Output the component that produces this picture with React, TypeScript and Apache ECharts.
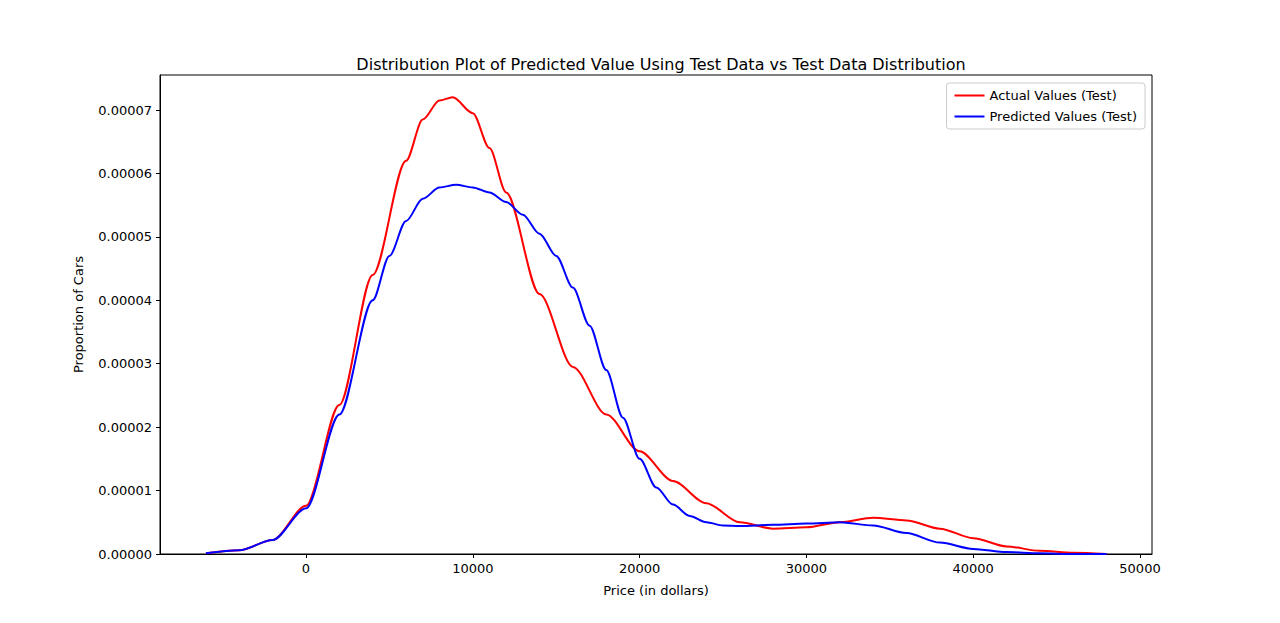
import { useRef, useEffect } from "react"
import * as echarts from "echarts"

// x in dollars, y in units of 1e-5
const actualX = [-6000, -4000, -2000, 0, 2000, 4000, 6000, 7000, 8000, 8800, 10000, 11000, 12000, 14000, 16000, 18000, 20000, 22000, 24000, 26000, 28000, 30000, 32000, 34000, 36000, 38000, 40000, 42000, 44000, 46000, 48000]
const actualY = [0.01, 0.06, 0.22, 0.76, 2.35, 4.4, 6.2, 6.85, 7.15, 7.2, 6.95, 6.4, 5.7, 4.1, 2.95, 2.2, 1.62, 1.15, 0.8, 0.5, 0.4, 0.42, 0.5, 0.57, 0.53, 0.4, 0.25, 0.12, 0.05, 0.02, 0.0]
const predX = [-6000, -4000, -2000, 0, 2000, 4000, 5000, 6000, 7000, 8000, 9000, 10000, 11000, 12000, 13000, 14000, 15000, 16000, 17000, 18000, 19000, 20000, 21000, 22000, 23000, 24000, 25000, 26000, 28000, 30000, 32000, 34000, 36000, 38000, 40000, 42000, 44000, 46000, 48000]
const predY = [0.01, 0.06, 0.22, 0.72, 2.2, 4.0, 4.7, 5.25, 5.6, 5.78, 5.82, 5.78, 5.7, 5.55, 5.35, 5.05, 4.7, 4.2, 3.6, 2.9, 2.15, 1.5, 1.05, 0.78, 0.6, 0.5, 0.45, 0.44, 0.46, 0.48, 0.5, 0.45, 0.33, 0.18, 0.08, 0.03, 0.01, 0.0, 0.0]
const xTicks = [0, 10000, 20000, 30000, 40000, 50000]
const yTicks = [0, 1, 2, 3, 4, 5, 6, 7]

export default function App() {
  const chartRef = useRef<HTMLDivElement>(null)

  useEffect(() => {
    if (!chartRef.current) return
    const instance = echarts.init(chartRef.current, undefined, { renderer: "svg" })
    const font = "DejaVu Sans"
    instance.setOption({
      animation: false,
      textStyle: { fontFamily: font },
      title: {
        text: "Distribution Plot of Predicted Value Using Test Data vs Test Data Distribution",
        left: 656, top: 51, textAlign: "center",
        textStyle: { fontSize: 16, fontWeight: "normal", color: "#000", fontFamily: font },
      },
      legend: {
        orient: "vertical", right: 135, top: 83,
        borderColor: "#ccc", borderWidth: 1, borderRadius: 3, padding: [6, 8],
        itemWidth: 30, itemHeight: 2, itemGap: 8,
        icon: "rect",
        textStyle: { fontSize: 13, color: "#000", fontFamily: font },
        data: ["Actual Values (Test)", "Predicted Values (Test)"],
      },
      grid: { left: 160, right: 128, top: 75, bottom: 69, show: true, borderColor: "#000", borderWidth: 1 },
      xAxis: {
        type: "value", min: -8753, max: 50720,
        name: "Price (in dollars)", nameLocation: "middle", nameGap: 30,
        nameTextStyle: { fontSize: 13, color: "#000" },
        splitLine: { show: false },
        axisLine: { onZero: false, lineStyle: { color: "#000" } },
        axisTick: { show: true, customValues: xTicks, length: 4, lineStyle: { color: "#000" } },
        axisLabel: { customValues: xTicks, color: "#000", fontSize: 13, margin: 8, formatter: (v: number) => String(v) },
      },
      yAxis: {
        type: "value", min: 0, max: 7.552,
        name: "Proportion of Cars", nameLocation: "middle", nameGap: 75,
        nameTextStyle: { fontSize: 13, color: "#000" },
        splitLine: { show: false },
        axisLine: { show: true, onZero: false, lineStyle: { color: "#000" } },
        axisTick: { show: true, customValues: yTicks, length: 4, lineStyle: { color: "#000" } },
        axisLabel: {
          customValues: yTicks, color: "#000", fontSize: 13, margin: 8,
          formatter: (v: number) => (v * 1e-5).toFixed(5),
        },
      },
      series: [
        {
          name: "Actual Values (Test)", type: "line", smooth: 0.3, smoothMonotone: "x", symbol: "none",
          color: "#ff0000", lineStyle: { width: 2 },
          data: actualX.map((x, i) => [x, actualY[i]]),
        },
        {
          name: "Predicted Values (Test)", type: "line", smooth: 0.3, smoothMonotone: "x", symbol: "none",
          color: "#0000ff", lineStyle: { width: 2 },
          data: predX.map((x, i) => [x, predY[i]]),
        },
      ],
    })
    return () => instance.dispose()
  }, [])

  return <div ref={chartRef} style={{ position: "fixed", left: 0, top: 0, width: 1280, height: 623, background: "#fff" }} />
}
